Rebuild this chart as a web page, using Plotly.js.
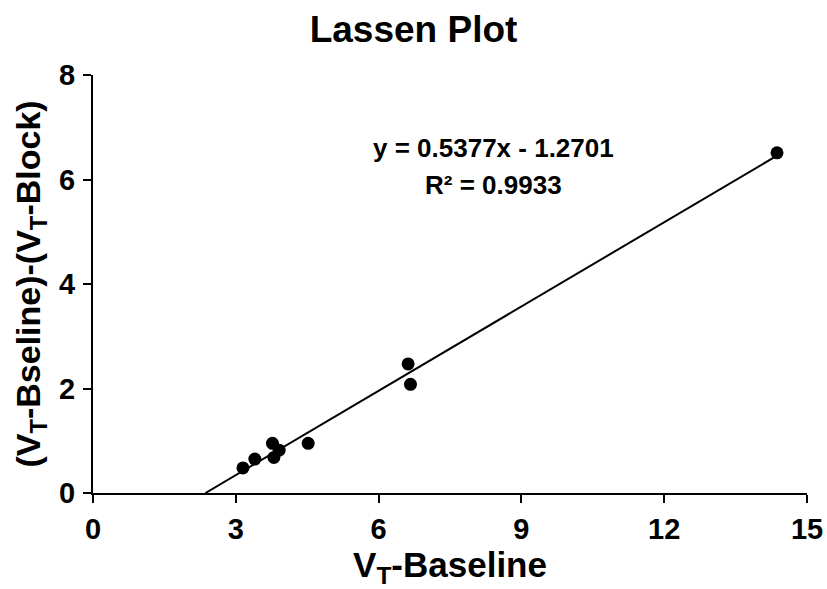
<!DOCTYPE html>
<html>
<head>
<meta charset="utf-8">
<script src="https://cdn.plot.ly/plotly-3.0.1.min.js"></script>
<style>html,body{margin:0;padding:0;background:#fff;}#chart{width:827px;height:589px;}</style>
</head>
<body>
<div id="chart"></div>
<script>
var xBaseline = [3.15, 3.40, 3.77, 3.80, 3.91, 4.52, 6.62, 6.67, 14.37];
var yDiff = [0.48, 0.65, 0.95, 0.68, 0.82, 0.95, 2.47, 2.08, 6.51];
var slope = 0.5377;
var intercept = -1.2701;
var trendX = [-intercept / slope, 14.37];
var trendY = trendX.map(function (x) { return slope * x + intercept; });
var xTicks = [0, 3, 6, 9, 12, 15];
var yTicks = [0, 2, 4, 6, 8];

var font = 'Liberation Sans, Arial, sans-serif';
var data = [
  {x: trendX, y: trendY, mode: 'lines', type: 'scatter', line: {color: '#000', width: 2}, hoverinfo: 'skip'},
  {x: xBaseline, y: yDiff, mode: 'markers', type: 'scatter', marker: {color: '#000', size: 13}}
];
var layout = {
  width: 827, height: 589,
  margin: {l: 93, r: 20, t: 75, b: 96},
  paper_bgcolor: '#fff', plot_bgcolor: '#fff',
  showlegend: false,
  title: {text: 'Lassen Plot', x: 0.5, xanchor: 'center', y: 0.95, yanchor: 'middle', font: {family: font, size: 37, color: '#000', weight: 'bold'}},
  xaxis: {
    range: [0, 15], tickvals: xTicks, ticks: 'outside', ticklen: 8, tickwidth: 2, tickcolor: '#000',
    showline: true, linecolor: '#000', linewidth: 2, showgrid: false, zeroline: false,
    tickfont: {family: font, size: 29, color: '#000', weight: 'bold'}, ticklabelstandoff: 1,
    title: {text: 'V<sub>T</sub>-Baseline', font: {family: font, size: 35, color: '#000', weight: 'bold'}, standoff: 4}
  },
  yaxis: {
    range: [0, 8], tickvals: yTicks, ticks: 'outside', ticklen: 8, tickwidth: 2, tickcolor: '#000',
    showline: true, linecolor: '#000', linewidth: 2, showgrid: false, zeroline: false,
    tickfont: {family: font, size: 29, color: '#000', weight: 'bold'}, ticklabelstandoff: 2,
    title: {text: '(V<sub>T</sub>-Bseline)-(V<sub>T</sub>-Block)', font: {family: font, size: 34, color: '#000', weight: 'bold'}, standoff: 8}
  },
  annotations: [
    {text: 'y = 0.5377x - 1.2701', xref: 'paper', yref: 'paper',
     x: (493 - 93) / 714, y: (493 - 148) / 418, xanchor: 'center', yanchor: 'middle', showarrow: false,
     font: {family: font, size: 26, color: '#000', weight: 'bold'}},
    {text: 'R² = 0.9933', xref: 'paper', yref: 'paper',
     x: (493 - 93) / 714, y: (493 - 185) / 418, xanchor: 'center', yanchor: 'middle', showarrow: false,
     font: {family: font, size: 26, color: '#000', weight: 'bold'}}
  ]
};
Plotly.newPlot('chart', data, layout, {displayModeBar: false, staticPlot: true});
</script>
</body>
</html>
